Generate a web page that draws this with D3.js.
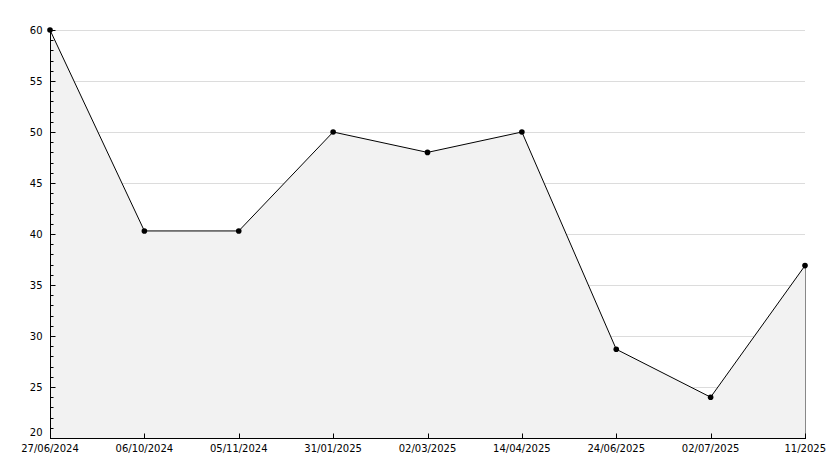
<!DOCTYPE html>
<html><head><meta charset="utf-8">
<script src="https://cdn.jsdelivr.net/npm/d3@7"></script>
<style>body{margin:0;background:#fff}svg{display:block}text{font-family:"DejaVu Sans",sans-serif;font-size:10px;fill:#000}</style>
</head><body><svg width="834" height="468"></svg>
<script>
const categories = ["27/06/2024","06/10/2024","05/11/2024","31/01/2025","02/03/2025","14/04/2025","24/06/2025","02/07/2025","11/2025"];
const values = [60, 40.3, 40.3, 50, 48, 50, 28.7, 24, 36.9];
const yTicks = [20,25,30,35,40,45,50,55,60];

const svg = d3.select("svg");
const L=50,R=805,T=30,B=438;
const x = d3.scalePoint().domain(categories).range([L,R]);
const y = d3.scaleLinear().domain([20,60]).range([B,T]);

// grid
svg.selectAll("line.g").data(yTicks.slice(1)).join("line")
 .attr("x1",L).attr("x2",R).attr("y1",d=>y(d)+0.5).attr("y2",d=>y(d)+0.5)
 .attr("stroke","#dcdcdc");

// area
svg.append("path").datum(values.map((v,i)=>[categories[i],v]))
 .attr("fill","#f2f2f2")
 .attr("d",d3.area().x(d=>x(d[0])).y0(B).y1(d=>y(d[1])));
// right edge of area
svg.append("line").attr("x1",R+0.5).attr("x2",R+0.5).attr("y1",y(values[values.length-1])).attr("y2",B).attr("stroke","#888");

svg.append("path").datum(values.map((v,i)=>[categories[i],v]))
 .attr("fill","none").attr("stroke","#000").attr("stroke-width",1)
 .attr("d",d3.line().x(d=>x(d[0])).y(d=>y(d[1])));

svg.selectAll("circle").data(values).join("circle")
 .attr("cx",(d,i)=>x(categories[i])).attr("cy",d=>y(d)).attr("r",2.8).attr("fill","#000");

// y axis
const minor = d3.range(20,61,1).filter(v=>v%5);
const ya = svg.append("g").attr("transform",`translate(${L+0.5},0)`);
ya.append("line").attr("y1",T).attr("y2",B+0.5).attr("stroke","#000");
ya.selectAll("line.mi").data(minor).join("line").attr("x1",0).attr("x2",3).attr("y1",d=>Math.round(y(d))+0.5).attr("y2",d=>Math.round(y(d))+0.5).attr("stroke","#000");
ya.selectAll("line.ma").data(yTicks).join("line").attr("x1",0).attr("x2",5).attr("y1",d=>Math.round(y(d))+0.5).attr("y2",d=>Math.round(y(d))+0.5).attr("stroke","#000");
ya.selectAll("text").data(yTicks).join("text").attr("x",-8).attr("y",d=>y(d)+ (d===20?-2:3.5)).attr("text-anchor","end").text(d=>d);

// x axis
const xa = svg.append("g").attr("transform",`translate(0,${B+0.5})`);
xa.append("line").attr("x1",L).attr("x2",R+1).attr("stroke","#000");
xa.selectAll("line.t").data(categories).join("line").attr("x1",d=>Math.round(x(d))+0.5).attr("x2",d=>Math.round(x(d))+0.5).attr("y1",0).attr("y2",-5).attr("stroke","#000");
xa.selectAll("text").data(categories).join("text")
 .attr("x",(d,i)=>i===categories.length-1?826:x(d)).attr("y",13)
 .attr("text-anchor",(d,i)=>i===categories.length-1?"end":"middle").text(d=>d);
</script></body></html>
